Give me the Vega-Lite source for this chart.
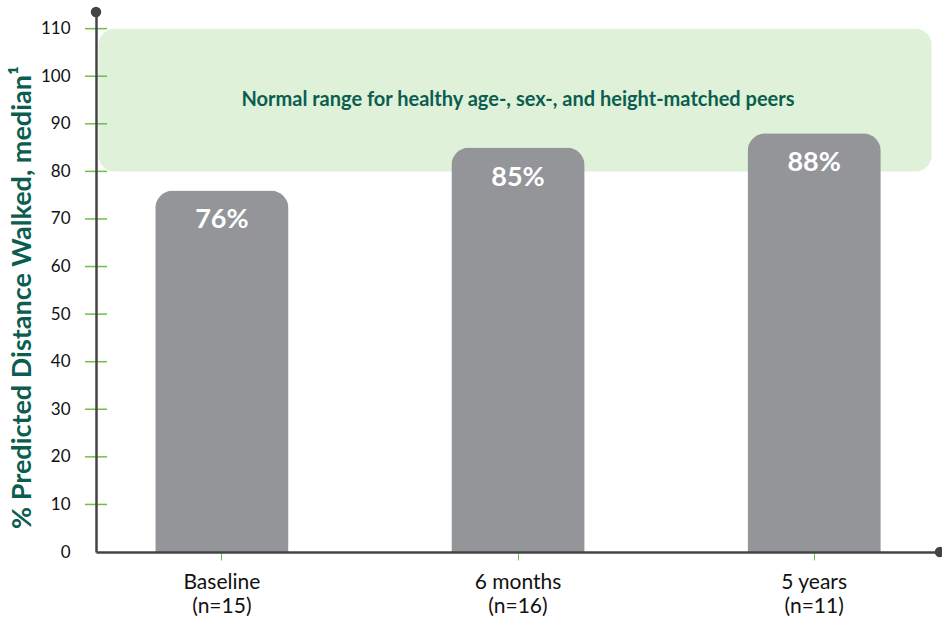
{
  "$schema": "https://vega.github.io/schema/vega-lite/v6.json",
  "width": 844,
  "height": 540,
  "autosize": {"type": "none"},
  "padding": {"left": 96, "top": 12, "right": 2, "bottom": 66},
  "background": "white",
  "config": {"font": "Lato", "view": {"stroke": null}},
  "layer": [
    {
      "data": {"values": [{"lo": 80, "hi": 110}]},
      "mark": {"type": "rect", "color": "#dff1d9", "cornerRadius": 16},
      "encoding": {
        "x": {"datum": 0.003, "type": "quantitative", "scale": {"domain": [0, 1], "nice": false, "zero": false}, "axis": null},
        "x2": {"datum": 0.99},
        "y": {"field": "hi", "type": "quantitative", "scale": {"domain": [0, 113.5], "nice": false}},
        "y2": {"field": "lo"}
      }
    },
    {
      "data": {"values": [{"label": "Normal range for healthy age-, sex-, and height-matched peers", "v": 95}]},
      "mark": {"type": "text", "color": "#0b5e4f", "fontSize": 20, "fontWeight": "bold", "align": "center", "baseline": "middle"},
      "encoding": {
        "y": {"field": "v", "type": "quantitative"},
        "text": {"field": "label"}
      }
    },
    {
      "data": {"values": [
        {"time": "Baseline|(n=15)", "value": 76, "label": "76%"},
        {"time": "6 months|(n=16)", "value": 85, "label": "85%"},
        {"time": "5 years|(n=11)", "value": 88, "label": "88%"}
      ]},
      "encoding": {
        "x": {"field": "time", "type": "nominal", "sort": null,
          "scale": {"paddingInner": 0.55, "paddingOuter": 0.2},
          "axis": {"domainColor": "#444", "domainWidth": 2.5, "tickColor": "#6cc04a", "tickSize": 8, "tickWidth": 1, "labelFontSize": 21, "labelColor": "#111", "labelPadding": 11, "labelLineHeight": 24, "labelExpr": "split(datum.value, '|')", "title": null, "labelAngle": 0, "zindex": 1}}
      },
      "layer": [
        {
          "mark": {"type": "bar", "color": "#939598", "cornerRadiusTopLeft": 18, "cornerRadiusTopRight": 18},
          "encoding": {
            "y": {"field": "value", "type": "quantitative",
              "axis": {"orient": "left", "values": [0,10,20,30,40,50,60,70,80,90,100,110], "domain": true, "domainColor": "#444", "domainWidth": 2.5, "ticks": false, "labelFontSize": 17, "labelColor": "#111", "labelPadding": 26, "grid": false, "zindex": 1,
                "title": "% Predicted Distance Walked, median¹", "titleFontSize": 27, "titleFontWeight": "bold", "titleColor": "#0b5e4f", "titleX": -74, "titleY": 285, "titleAngle": -90, "titleAlign": "center", "titleBaseline": "middle"}}
          }
        },
        {
          "mark": {"type": "text", "color": "white", "fontSize": 27, "fontWeight": "bold", "align": "center", "baseline": "middle", "dy": 30},
          "encoding": {
            "y": {"field": "value", "type": "quantitative"},
            "text": {"field": "label"}
          }
        }
      ]
    },
    {
      "data": {"values": [{"t": 10}, {"t": 20}, {"t": 30}, {"t": 40}, {"t": 50}, {"t": 60}, {"t": 70}, {"t": 80}, {"t": 90}, {"t": 100}, {"t": 110}]},
      "mark": {"type": "tick", "orient": "horizontal", "color": "#6cc04a", "size": 22, "thickness": 1.5, "opacity": 1},
      "encoding": {
        "x": {"datum": 0, "type": "quantitative", "scale": {"domain": [0, 1], "nice": false, "zero": false}, "axis": null},
        "y": {"field": "t", "type": "quantitative"}
      }
    },
    {
      "data": {"values": [{"px": 0, "py": 113.5}, {"px": 1, "py": 0}]},
      "mark": {"type": "point", "filled": true, "color": "#444", "size": 110, "opacity": 1},
      "encoding": {
        "x": {"field": "px", "type": "quantitative", "scale": {"domain": [0, 1], "nice": false, "zero": false}, "axis": null},
        "y": {"field": "py", "type": "quantitative"}
      }
    }
  ],
  "resolve": {"scale": {"x": "independent"}}
}
